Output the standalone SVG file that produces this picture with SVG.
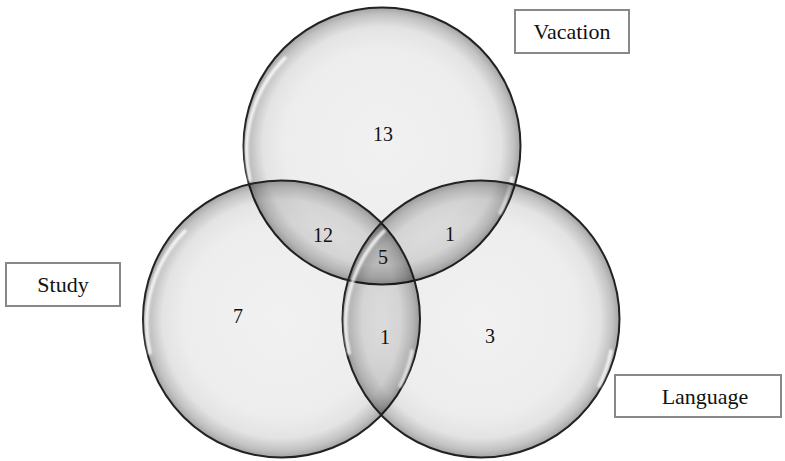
<svg xmlns="http://www.w3.org/2000/svg" width="785" height="461" viewBox="0 0 785 461">
<defs>
<radialGradient id="g" cx="0.5" cy="0.5" r="0.5">
<stop offset="0" stop-color="#000" stop-opacity="0.055"/>
<stop offset="0.7" stop-color="#000" stop-opacity="0.07"/>
<stop offset="0.86" stop-color="#000" stop-opacity="0.11"/>
<stop offset="0.95" stop-color="#000" stop-opacity="0.24"/>
<stop offset="1" stop-color="#000" stop-opacity="0.36"/>
</radialGradient>
<filter id="b" x="-0.2" y="-0.2" width="1.4" height="1.4"><feGaussianBlur stdDeviation="1.2"/></filter>
</defs>
<style>
.c{fill:url(#g);stroke:#222;stroke-width:2}
.hl{fill:none;stroke:#fff;stroke-width:3.5;stroke-linecap:round;opacity:0.85;filter:url(#b)}
.box{fill:#fff;stroke:#888;stroke-width:2}
text{font-family:"Liberation Serif","Times New Roman",serif;fill:#111;text-anchor:middle}
.lbl{font-size:22px}
.num{font-size:20px}
</style>
<rect width="785" height="461" fill="#fff"/>
<g id="vacation-circle">
<circle class="c" cx="382" cy="146" r="138.5"/>
<path class="hl" d="M 250 180 A 131 131 0 0 1 285 58"/>
<path class="hl" d="M 500 213 A 131 131 0 0 0 512 178"/>
</g>
<g id="study-circle">
<circle class="c" cx="281.5" cy="319" r="138.5"/>
<path class="hl" d="M 150 353 A 131 131 0 0 1 185 231"/>
<path class="hl" d="M 400 386 A 131 131 0 0 0 412 351"/>
</g>
<g id="language-circle">
<circle class="c" cx="481" cy="319" r="138.5"/>
<path class="hl" d="M 349 353 A 131 131 0 0 1 384 231"/>
<path class="hl" d="M 599 386 A 131 131 0 0 0 611 351"/>
</g>
<g id="numbers">
<text class="num" x="383" y="141">13</text>
<text class="num" x="323" y="242">12</text>
<text class="num" x="450" y="241">1</text>
<text class="num" x="383" y="264">5</text>
<text class="num" x="238" y="323">7</text>
<text class="num" x="385" y="344">1</text>
<text class="num" x="490" y="343">3</text>
</g>
<g id="vacation-label">
<rect class="box" x="515" y="10" width="114" height="43"/>
<text class="lbl" x="572" y="39">Vacation</text>
</g>
<g id="study-label">
<rect class="box" x="6" y="263" width="114" height="43"/>
<text class="lbl" x="63" y="292">Study</text>
</g>
<g id="language-label">
<rect class="box" x="615" y="375" width="166" height="42"/>
<text class="lbl" x="705" y="404">Language</text>
</g>
</svg>
